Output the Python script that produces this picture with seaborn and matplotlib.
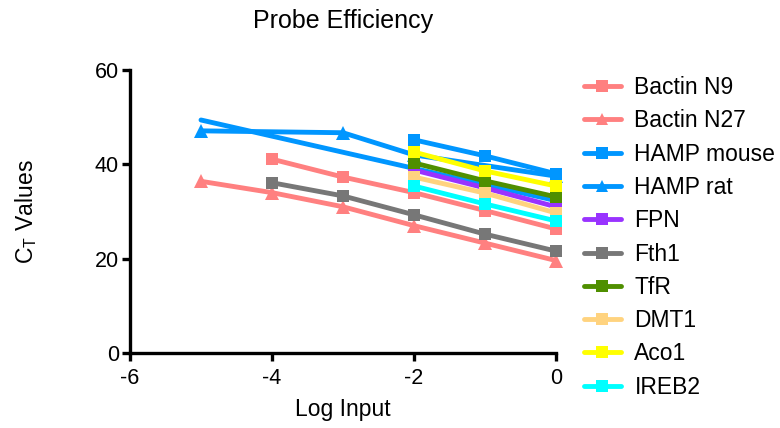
import matplotlib
matplotlib.use("Agg")
import matplotlib.pyplot as plt
import seaborn as sns
import pandas as pd
from matplotlib.lines import Line2D

sns.set_theme(style="white")
plt.rcParams['font.family'] = ['Liberation Sans', 'DejaVu Sans']
plt.rcParams['mathtext.fontset'] = 'custom'
plt.rcParams['mathtext.rm'] = 'Liberation Sans'
plt.rcParams['mathtext.it'] = 'Liberation Sans:italic'
plt.rcParams['text.color'] = 'black'
plt.rcParams['axes.labelcolor'] = 'black'
plt.rcParams['xtick.color'] = 'black'
plt.rcParams['ytick.color'] = 'black'

# ---- data ----
bactin_n9_x = [-4, -3, -2, -1, 0]
bactin_n9_y = [41.1, 37.3, 34.0, 30.2, 26.3]
bactin_n27_x = [-5, -4, -3, -2, -1, 0]
bactin_n27_y = [36.4, 34.0, 31.0, 27.0, 23.3, 19.6]
hamp_mouse_x = [-2, -1, 0]
hamp_mouse_y = [45.2, 41.8, 38.0]
hamp_rat_x = [-5, -3, -2, 0]
hamp_rat_y = [47.1, 46.7, 42.0, 37.5]
hamp_rat_fit_x = [-5, 0]
hamp_rat_fit_y = [49.4, 32.3]
fpn_x = [-2, -1, 0]
fpn_y = [38.8, 35.0, 31.0]
fth1_x = [-4, -3, -2, -1, 0]
fth1_y = [36.1, 33.3, 29.3, 25.2, 21.6]
tfr_x = [-2, -1, 0]
tfr_y = [40.3, 36.5, 33.1]
dmt1_x = [-2, -1, 0]
dmt1_y = [37.3, 33.9, 29.7]
aco1_x = [-2, -1, 0]
aco1_y = [42.6, 38.6, 35.4]
ireb2_x = [-2, -1, 0]
ireb2_y = [35.4, 31.6, 28.0]

series_names = ["Bactin N9", "Bactin N27", "HAMP mouse", "HAMP rat", "FPN",
                "Fth1", "TfR", "DMT1", "Aco1", "IREB2"]
series_x = [bactin_n9_x, bactin_n27_x, hamp_mouse_x, hamp_rat_x, fpn_x,
            fth1_x, tfr_x, dmt1_x, aco1_x, ireb2_x]
series_y = [bactin_n9_y, bactin_n27_y, hamp_mouse_y, hamp_rat_y, fpn_y,
            fth1_y, tfr_y, dmt1_y, aco1_y, ireb2_y]
colors = ["#FF8080", "#FF8080", "#0096FF", "#0096FF", "#9933FF",
          "#777777", "#4F8F00", "#FFD37F", "#FFFF00", "#00FFFF"]
markers = ["s", "^", "s", "^", "s", "s", "s", "s", "s", "s"]

x_ticks = [-6, -4, -2, 0]
y_ticks = [0, 20, 40, 60]

fig = plt.figure(figsize=(7.8, 4.28), dpi=100)
ax = fig.add_axes([130/780, 1-353/428, (556-130)/780, (353-70)/428])

LW = 3.5
for name, xs, ys, c, m in zip(series_names, series_x, series_y, colors, markers):
    df = pd.DataFrame({"x": xs, "y": ys})
    sns.lineplot(data=df, x="x", y="y", ax=ax, color=c, lw=LW, marker=m,
                 markersize=9 if m == "s" else 10, markeredgewidth=0,
                 clip_on=False, legend=False, solid_capstyle="butt")
    if name == "HAMP rat":
        fdf = pd.DataFrame({"x": hamp_rat_fit_x, "y": hamp_rat_fit_y})
        sns.lineplot(data=fdf, x="x", y="y", ax=ax, color=c, lw=LW,
                     clip_on=False, legend=False)

ax.set_xlim(-6, 0)
ax.set_ylim(0, 60)
ax.set_xticks(x_ticks)
ax.set_yticks(y_ticks)
ax.set_xticklabels([str(t) for t in x_ticks])
ax.set_yticklabels([str(t) for t in y_ticks])
for s in ["top", "right"]:
    ax.spines[s].set_visible(False)
for s in ["left", "bottom"]:
    ax.spines[s].set_linewidth(2.4)
    ax.spines[s].set_color("black")
ax.tick_params(axis="both", which="major", direction="out", length=6, width=2.4,
               color="black", labelsize=15.5, left=True, bottom=True)
ax.tick_params(axis="x", pad=5)
ax.tick_params(axis="y", pad=2)
ax.set_xlabel("Log Input", fontsize=16.5, labelpad=6)
ax.set_ylabel(r"C$_\mathrm{T}$ Values", fontsize=16.5, labelpad=40)
ax.set_title("Probe Efficiency", fontsize=18, pad=30)

handles = [Line2D([0], [0], color=c, lw=LW, marker=m, markersize=9,
                  markeredgewidth=0) for c, m in zip(colors, markers)]
fig.legend(handles, series_names, loc="upper left",
           bbox_to_anchor=(584/780, 1-76/428), frameon=False, fontsize=16.5,
           handlelength=1.6, handletextpad=0.6, labelspacing=0.45,
           borderaxespad=0, borderpad=0)

fig.savefig("out.png", dpi=100)
